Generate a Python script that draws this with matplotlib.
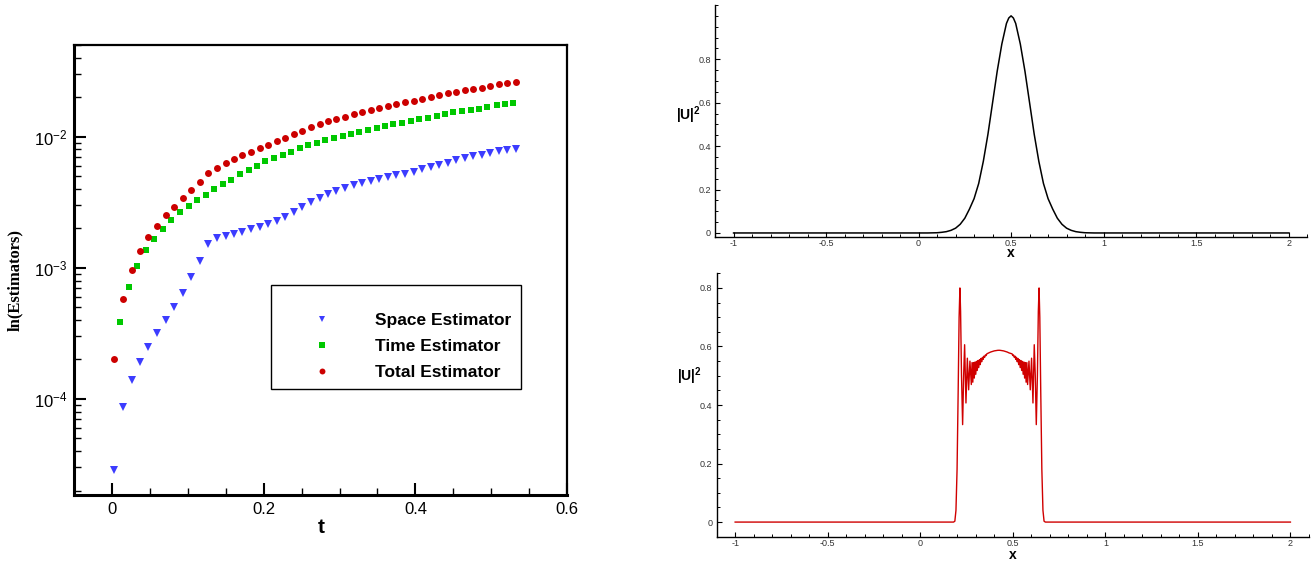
import matplotlib
matplotlib.use("Agg")
import matplotlib.pyplot as plt
from matplotlib.patches import Rectangle
from matplotlib.ticker import MultipleLocator, FixedLocator, LogLocator, NullFormatter

plt.rcParams["font.family"] = ["Liberation Sans", "DejaVu Sans"]
plt.rcParams["mathtext.fontset"] = "custom"
plt.rcParams["mathtext.rm"] = "Liberation Sans"
plt.rcParams["mathtext.bf"] = "Liberation Sans:bold"
plt.rcParams["axes.unicode_minus"] = False

# ─── Estimateurs (gauche) ───────────────────────────────────
t_space_total = [0.003, 0.014, 0.026, 0.037, 0.048, 0.059, 0.071, 0.082, 0.093, 0.104,
                 0.116, 0.127, 0.138, 0.150, 0.161, 0.172, 0.183, 0.195, 0.206, 0.217,
                 0.228, 0.240, 0.251, 0.262, 0.274, 0.285, 0.296, 0.307, 0.319, 0.330,
                 0.341, 0.352, 0.364, 0.375, 0.386, 0.398, 0.409, 0.420, 0.431, 0.443,
                 0.454, 0.465, 0.476, 0.488, 0.499, 0.510, 0.521, 0.533]
t_time = [0.011, 0.022, 0.033, 0.045, 0.056, 0.067, 0.078, 0.090, 0.101, 0.112,
          0.124, 0.135, 0.146, 0.157, 0.169, 0.180, 0.191, 0.202, 0.214, 0.225,
          0.236, 0.248, 0.259, 0.270, 0.281, 0.293, 0.304, 0.315, 0.326, 0.338,
          0.349, 0.360, 0.371, 0.383, 0.394, 0.405, 0.417, 0.428, 0.439, 0.450,
          0.462, 0.473, 0.484, 0.495, 0.507, 0.518, 0.529]

space_est = [2.85e-5, 8.72e-5, 1.40e-4, 1.92e-4, 2.50e-4, 3.16e-4, 3.99e-4, 5.04e-4, 6.45e-4, 8.54e-4,
             1.127e-3, 1.53e-3, 1.69e-3, 1.75e-3, 1.82e-3, 1.89e-3, 1.98e-3, 2.06e-3, 2.15e-3, 2.27e-3,
             2.43e-3, 2.66e-3, 2.93e-3, 3.18e-3, 3.43e-3, 3.68e-3, 3.88e-3, 4.07e-3, 4.29e-3, 4.47e-3,
             4.63e-3, 4.77e-3, 4.91e-3, 5.09e-3, 5.23e-3, 5.42e-3, 5.65e-3, 5.88e-3, 6.13e-3, 6.35e-3,
             6.62e-3, 6.86e-3, 7.10e-3, 7.30e-3, 7.52e-3, 7.75e-3, 7.89e-3, 8.11e-3]
time_est = [3.86e-4, 7.13e-4, 1.03e-3, 1.365e-3, 1.67e-3, 1.97e-3, 2.31e-3, 2.67e-3, 2.95e-3, 3.28e-3,
            3.58e-3, 3.98e-3, 4.35e-3, 4.71e-3, 5.18e-3, 5.56e-3, 5.96e-3, 6.48e-3, 6.87e-3, 7.27e-3,
            7.70e-3, 8.17e-3, 8.58e-3, 9.02e-3, 9.37e-3, 9.71e-3, 1.005e-2, 1.045e-2, 1.084e-2, 1.123e-2,
            1.16e-2, 1.20e-2, 1.24e-2, 1.28e-2, 1.32e-2, 1.36e-2, 1.40e-2, 1.44e-2, 1.48e-2, 1.53e-2,
            1.56e-2, 1.60e-2, 1.64e-2, 1.68e-2, 1.73e-2, 1.77e-2, 1.81e-2]
total_est = [2.02e-4, 5.83e-4, 9.54e-4, 1.34e-3, 1.71e-3, 2.10e-3, 2.52e-3, 2.93e-3, 3.40e-3, 3.91e-3,
             4.52e-3, 5.27e-3, 5.81e-3, 6.28e-3, 6.77e-3, 7.26e-3, 7.70e-3, 8.21e-3, 8.66e-3, 9.24e-3,
             9.84e-3, 1.045e-2, 1.107e-2, 1.18e-2, 1.24e-2, 1.32e-2, 1.367e-2, 1.42e-2, 1.49e-2, 1.545e-2,
             1.60e-2, 1.66e-2, 1.71e-2, 1.77e-2, 1.83e-2, 1.88e-2, 1.95e-2, 2.01e-2, 2.07e-2, 2.15e-2,
             2.21e-2, 2.27e-2, 2.33e-2, 2.37e-2, 2.44e-2, 2.51e-2, 2.57e-2, 2.63e-2]

series_labels = ["Space Estimator", "Time Estimator", "Total Estimator"]
t_ticks = [0, 0.2, 0.4, 0.6]
t_tick_labels = ["0", "0.2", "0.4", "0.6"]

# ─── |U|^2 initial (haut droite) ────────────────────────────
x_top = [-1.0, 0.05, 0.1, 0.125, 0.15, 0.175, 0.2, 0.225, 0.25, 0.275, 0.3, 0.325, 0.35, 0.375,
         0.4, 0.425, 0.45, 0.475, 0.4875, 0.5, 0.5125, 0.525, 0.55, 0.575, 0.6, 0.625, 0.65,
         0.675, 0.7, 0.725, 0.75, 0.775, 0.8, 0.825, 0.85, 0.875, 0.9, 0.95, 2.0]
u2_top = [0.0, 0.0, 0.001, 0.003, 0.006, 0.012, 0.022, 0.040, 0.068, 0.11, 0.158, 0.228, 0.33, 0.455,
          0.60, 0.745, 0.87, 0.965, 0.99, 1.0, 0.99, 0.965, 0.87, 0.745, 0.60, 0.455, 0.33,
          0.228, 0.158, 0.11, 0.068, 0.040, 0.022, 0.012, 0.006, 0.003, 0.001, 0.0, 0.0]

# ─── |U|^2 final, oscillant (bas droite) ────────────────────
x_bot = [-1.0, 0.180, 0.187, 0.193, 0.199, 0.205, 0.210, 0.2144, 0.218, 0.223, 0.229, 0.2345,
         0.2398, 0.247, 0.2545, 0.2615, 0.2685, 0.276,
         0.280, 0.284, 0.288, 0.292, 0.296, 0.300, 0.304, 0.308, 0.312, 0.316, 0.320,
         0.324, 0.328, 0.332, 0.336, 0.340, 0.344, 0.348, 0.352, 0.356, 0.360,
         0.370, 0.380, 0.390, 0.400, 0.410, 0.420, 0.430, 0.440, 0.450, 0.460, 0.470, 0.480, 0.490,
         0.496, 0.500, 0.504, 0.508, 0.512, 0.516, 0.520, 0.524, 0.528, 0.532, 0.536,
         0.540, 0.544, 0.548, 0.552, 0.556, 0.560, 0.564, 0.568, 0.572, 0.576,
         0.580, 0.5875, 0.5945, 0.6015, 0.609, 0.616, 0.6215, 0.627, 0.633, 0.638, 0.642,
         0.646, 0.651, 0.657, 0.663, 0.669, 0.676, 2.0]
u2_bot = [0.0, 0.0, 0.003, 0.04, 0.18, 0.45, 0.70, 0.80, 0.72, 0.50, 0.333, 0.50,
          0.606, 0.407, 0.56, 0.452, 0.55, 0.47,
          0.545, 0.478, 0.545, 0.492, 0.547, 0.505, 0.549, 0.518, 0.552, 0.528, 0.555,
          0.538, 0.559, 0.548, 0.563, 0.556, 0.567, 0.563, 0.571, 0.569, 0.575,
          0.578, 0.581, 0.583, 0.585, 0.586, 0.587, 0.587, 0.586, 0.585, 0.583, 0.581, 0.578, 0.576,
          0.575, 0.569, 0.571, 0.563, 0.567, 0.556, 0.563, 0.548, 0.559, 0.538, 0.555,
          0.528, 0.552, 0.518, 0.549, 0.505, 0.547, 0.492, 0.545, 0.478, 0.545,
          0.47, 0.55, 0.452, 0.56, 0.407, 0.606, 0.50, 0.333, 0.50, 0.72, 0.80,
          0.70, 0.45, 0.18, 0.04, 0.003, 0.0, 0.0]

x_ticks_r = [-1, -0.5, 0, 0.5, 1, 1.5, 2]
x_tick_labels_r = ["-1", "-0.5", "0", "0.5", "1", "1.5", "2"]
y_ticks_r = [0, 0.2, 0.4, 0.6, 0.8]
y_tick_labels_r = ["0", "0.2", "0.4", "0.6", "0.8"]

BLUE  = "#3c3cff"
GREEN = "#00c800"
RED   = "#cc0000"

fig = plt.figure(figsize=(13.13, 5.61), dpi=100)

# ══════════════════════════════════════════════════════════
# GAUCHE : estimateurs (échelle log)
# ══════════════════════════════════════════════════════════
ax = fig.add_axes([0.0564, 0.1176, 0.3755, 0.8021])
ax.set_yscale("log")
h1, = ax.plot(t_space_total, space_est, "v", color=BLUE, ms=5.6, mew=0, label=series_labels[0])
h2, = ax.plot(t_time, time_est, "s", color=GREEN, ms=4.7, mew=0, label=series_labels[1])
h3, = ax.plot(t_space_total, total_est, "o", color=RED, ms=5.0, mew=0, label=series_labels[2])

ax.set_xlim(-0.05, 0.6)
ax.set_ylim(1.85e-5, 5e-2)
ax.set_xticks(t_ticks)
ax.set_xticklabels(t_tick_labels)
ax.xaxis.set_minor_locator(MultipleLocator(0.05))
ax.yaxis.set_minor_locator(LogLocator(base=10, subs=range(2, 10)))
ax.yaxis.set_minor_formatter(NullFormatter())
ax.tick_params(which="major", direction="in", length=8.5, width=1.5, labelsize=12, pad=5)
ax.tick_params(which="minor", direction="in", length=5, width=1.0)
for side in ("left", "bottom"):
    ax.spines[side].set_linewidth(2.2)
for side in ("top", "right"):
    ax.spines[side].set_linewidth(1.6)

ax.set_xlabel("t", fontsize=15, fontweight="bold", va="center")
ax.xaxis.set_label_coords(0.501, -0.072)
ax.set_ylabel("ln(Estimators)", fontsize=12, fontweight="bold", va="center",
              family=["Liberation Serif", "DejaVu Serif"])
ax.yaxis.set_label_coords(-0.12, 0.478)

# légende : texte sans cadre + rectangle dessiné à part
ax.legend(handles=[h1, h2, h3], loc="center left", bbox_to_anchor=(0.451, 0.331),
          frameon=False, borderpad=0, handlelength=2.0, handletextpad=2.05,
          labelspacing=0.62, markerscale=0.85,
          prop={"size": 12.5, "weight": "bold"})
ax.add_patch(Rectangle((0.400, 0.2356), 0.507, 0.2304, transform=ax.transAxes,
                       fill=False, edgecolor="black", linewidth=1.0, zorder=5))

# ══════════════════════════════════════════════════════════
# DROITE : |U|^2 initial / final
# ══════════════════════════════════════════════════════════
def style_right(a, ylim, label_y, xpad):
    a.set_xlim(-1.1, 2.1)
    a.set_ylim(*ylim)
    a.spines["top"].set_visible(False)
    a.spines["right"].set_visible(False)
    for side in ("left", "bottom"):
        a.spines[side].set_linewidth(1.0)
    a.xaxis.set_major_locator(FixedLocator(x_ticks_r))
    a.set_xticklabels(x_tick_labels_r)
    a.yaxis.set_major_locator(FixedLocator(y_ticks_r))
    a.set_yticklabels(y_tick_labels_r)
    a.xaxis.set_minor_locator(MultipleLocator(0.1))
    a.yaxis.set_minor_locator(MultipleLocator(0.05))
    a.tick_params(which="major", direction="in", length=3.5, width=0.8,
                  labelsize=6.5, labelcolor="#333333", pad=3)
    a.tick_params(axis="x", which="major", pad=xpad)
    a.tick_params(which="minor", direction="in", length=2.2, width=0.7)
    a.set_xlabel("x", fontsize=10, fontweight="bold", va="center")
    a.set_ylabel(r"$\mathbf{|U|^2}$", fontsize=10, rotation=0, va="center", ha="center")
    a.yaxis.set_label_coords(-0.045, label_y)

ax_top = fig.add_axes([0.5446, 0.577, 0.4509, 0.4141])
ax_top.plot(x_top, u2_top, color="black", lw=1.1)
style_right(ax_top, (-0.02, 1.05), 0.526, 1.2)
ax_top.xaxis.set_label_coords(0.5, -0.066)

ax_bot = fig.add_axes([0.5458, 0.0433, 0.4511, 0.4695])
ax_bot.plot(x_bot, u2_bot, color="#d00000", lw=1.0)
style_right(ax_bot, (-0.05, 0.85), 0.61, 2.0)
ax_bot.xaxis.set_label_coords(0.5, -0.068)

fig.savefig("out.png", dpi=100)
plt.close(fig)
